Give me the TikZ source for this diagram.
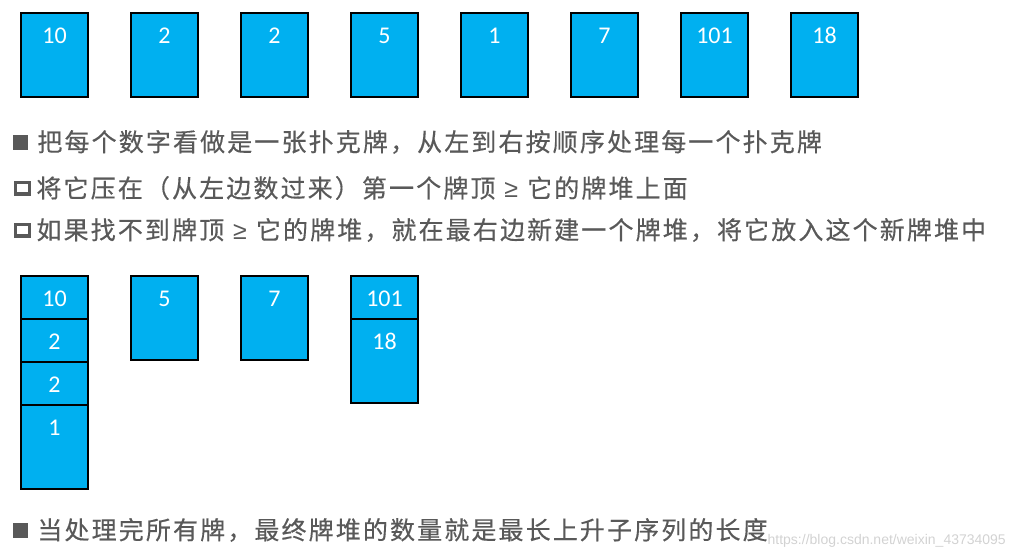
\documentclass[tikz,border=0pt]{standalone}
\usepackage{fontspec}
\setmainfont{Carlito}
\newfontfamily\cjk{Noto Sans CJK SC}[LetterSpace=8.5, FakeBold=0.4]
\newfontfamily\wmfont{Liberation Sans}
\usetikzlibrary{positioning}
\definecolor{cardblue}{HTML}{00B0F0}
\definecolor{textgray}{HTML}{595959}
\newcommand{\gesign}{\hspace{9pt}{\wmfont ≥}\hspace{9pt}}

\begin{document}
\begin{tikzpicture}[
  x=1pt, y=1pt,
  card/.style={draw, line width=2pt, fill=cardblue, text=white, font=\fontsize{24}{24}\selectfont,
    minimum width=67pt, inner sep=0pt, text height=30pt, text depth=54pt},
  flat/.style={text depth=13pt},
  txt/.style={anchor=west, inner sep=0pt, text=textgray, font=\cjk\fontsize{25}{28}\selectfont},
  full/.style={fill=textgray, minimum size=15pt, inner sep=0pt},
  hollow/.style={draw=textgray, line width=3.5pt, minimum width=14pt, minimum height=11.5pt, inner sep=0pt},
  wmark/.style={anchor=east, inner sep=0pt, text=gray!35, font=\wmfont\fontsize{14}{14}\selectfont}
]
\useasboundingbox (0,0) rectangle (1013,-557);
% the numbers in a row
\node[card, anchor=north west] (c1) at (20,-12) {10};
\node[card, right=41pt of c1] (c2) {2};
\node[card, right=41pt of c2] (c3) {2};
\node[card, right=41pt of c3] (c4) {5};
\node[card, right=41pt of c4] (c5) {1};
\node[card, right=41pt of c5] (c6) {7};
\node[card, right=41pt of c6] (c7) {101};
\node[card, right=41pt of c7] (c8) {18};
% the rules
\node[full] (b1) at (20.5,-142) {};
\node[txt, right=9pt of b1] (t1) {把每个数字看做是一张扑克牌，从左到右按顺序处理每一个扑克牌};
\node[hollow] (b2) at (22.5,-188) {};
\node[txt, right=5pt of b2] (t2) {将它压在（从左边数过来）第一个牌顶\gesign{}它的牌堆上面};
\node[hollow] (b3) at (22.5,-230) {};
\node[txt, right=5pt of b3] (t3) {如果找不到牌顶\gesign{}它的牌堆，就在最右边新建一个牌堆，将它放入这个新牌堆中};
% the piles
\node[card, flat, anchor=north west] (p1) at (20,-275) {10};
\node[card, flat, below=-2pt of p1] (p2) {2};
\node[card, flat, below=-2pt of p2] (p3) {2};
\node[card, below=-2pt of p3] (p4) {1};
\node[card, right=41pt of p1.north east, anchor=north west] (q1) {5};
\node[card, right=41pt of q1.north east, anchor=north west] (r1) {7};
\node[card, flat, right=41pt of r1.north east, anchor=north west] (s1) {101};
\node[card, below=-2pt of s1] (s2) {18};
% the result
\node[full] (b4) at (20.5,-530) {};
\node[txt, right=9pt of b4] (t4) {当处理完所有牌，最终牌堆的数量就是最长上升子序列的长度};
\node[wmark] (wm) at (1006,-541) {https://blog.csdn.net/weixin\_43734095};
\end{tikzpicture}
\end{document}
